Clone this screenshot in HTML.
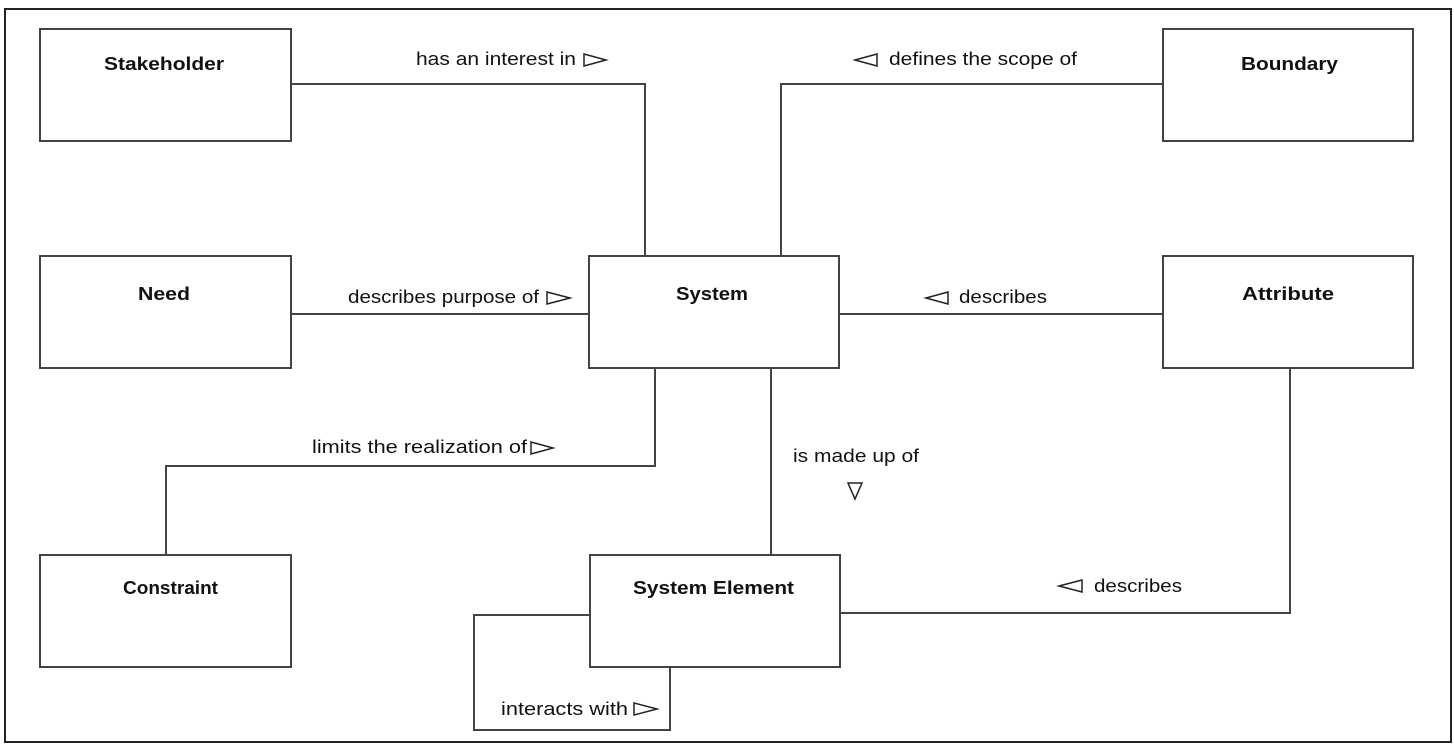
<!DOCTYPE html>
<html><head><meta charset="utf-8"><style>
html,body{margin:0;padding:0;background:#fff;}
svg{display:block;}
text{font-family:"Liberation Sans Narrow","Liberation Sans",sans-serif;fill:#111;}
.t{font-weight:bold;font-size:18px;}
.l{font-size:18px;}
</style></head><body>
<svg width="1454" height="751" viewBox="0 0 1454 751" xmlns="http://www.w3.org/2000/svg">
<rect x="5" y="9" width="1446" height="733" fill="#fff" stroke="#222" stroke-width="2"/>
<g fill="none" stroke="#444" stroke-width="2">
<rect x="40" y="29" width="251" height="112"/>
<rect x="1163" y="29" width="250" height="112"/>
<rect x="40" y="256" width="251" height="112"/>
<rect x="589" y="256" width="250" height="112"/>
<rect x="1163" y="256" width="250" height="112"/>
<rect x="40" y="555" width="251" height="112"/>
<rect x="590" y="555" width="250" height="112"/>
<polyline points="291,84 645,84 645,256"/>
<polyline points="1163,84 781,84 781,256"/>
<line x1="291" y1="314" x2="589" y2="314"/>
<line x1="839" y1="314" x2="1163" y2="314"/>
<polyline points="655,368 655,466 166,466 166,555"/>
<line x1="771" y1="368" x2="771" y2="555"/>
<polyline points="840,613 1290,613 1290,368"/>
<polyline points="590,615 474,615 474,730 670,730 670,667"/>
</g>
<g fill="none" stroke="#222" stroke-width="1.5">
<polygon points="584,54 584,66 606,60"/>
<polygon points="855,60 877,54 877,66"/>
<polygon points="547,292 547,304 570,298"/>
<polygon points="926,298 948,292 948,304"/>
<polygon points="531,442 531,454 553,448"/>
<polygon points="848,483 862,483 855,499"/>
<polygon points="1059,586 1082,580 1082,592"/>
<polygon points="634,703 634,715 657,709"/>
</g>
<text class="t" x="104" y="70" textLength="120" lengthAdjust="spacingAndGlyphs">Stakeholder</text>
<text class="t" x="1241" y="70" textLength="97" lengthAdjust="spacingAndGlyphs">Boundary</text>
<text class="t" x="138" y="300" textLength="52" lengthAdjust="spacingAndGlyphs">Need</text>
<text class="t" x="676" y="300" textLength="72" lengthAdjust="spacingAndGlyphs">System</text>
<text class="t" x="1242" y="300" textLength="92" lengthAdjust="spacingAndGlyphs">Attribute</text>
<text class="t" x="123" y="594" textLength="95" lengthAdjust="spacingAndGlyphs">Constraint</text>
<text class="t" x="633" y="594" textLength="161" lengthAdjust="spacingAndGlyphs">System Element</text>
<text class="l" x="416" y="65" textLength="160" lengthAdjust="spacingAndGlyphs">has an interest in</text>
<text class="l" x="889" y="65" textLength="188" lengthAdjust="spacingAndGlyphs">defines the scope of</text>
<text class="l" x="348" y="303" textLength="191" lengthAdjust="spacingAndGlyphs">describes purpose of</text>
<text class="l" x="959" y="303" textLength="88" lengthAdjust="spacingAndGlyphs">describes</text>
<text class="l" x="312" y="453" textLength="215" lengthAdjust="spacingAndGlyphs">limits the realization of</text>
<text class="l" x="793" y="462" textLength="126" lengthAdjust="spacingAndGlyphs">is made up of</text>
<text class="l" x="1094" y="592" textLength="88" lengthAdjust="spacingAndGlyphs">describes</text>
<text class="l" x="501" y="715" textLength="127" lengthAdjust="spacingAndGlyphs">interacts with</text>
</svg>
</body></html>
